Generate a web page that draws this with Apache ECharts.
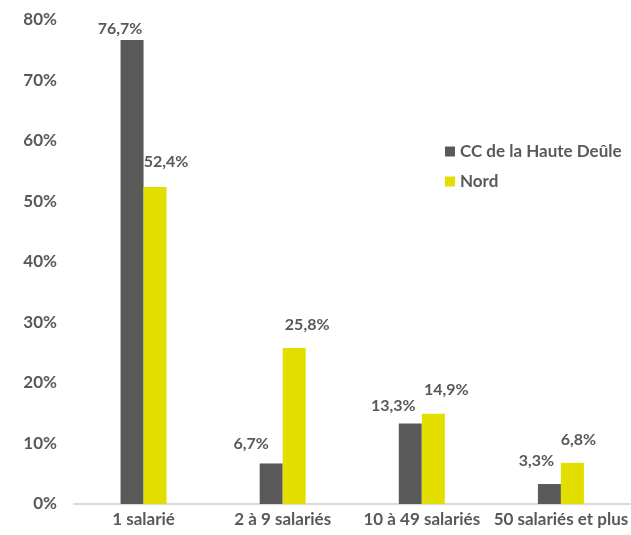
<!DOCTYPE html>
<html>
<head>
<meta charset="utf-8">
<script src="https://cdn.jsdelivr.net/npm/echarts@6/dist/echarts.min.js"></script>
<style>html,body{margin:0;padding:0;background:#fff}#c{width:631px;height:535px}</style>
</head>
<body>
<div id="c"></div>
<script>
const categories = ['1 salarié', '2 à 9 salariés', '10 à 49 salariés', '50 salariés et plus'];
const seriesNames = ['CC de la Haute Deûle', 'Nord'];
const ccValues = [76.7, 6.7, 13.3, 3.3];
const nordValues = [52.4, 25.8, 14.9, 6.8];
const colors = ['#595959', '#E2DE00'];

// label nudges (style only): [dx, dy above bar]
const ccLabelNudge = [[-12, 3], [-20, 12], [-17, 10], [-13, 15]];
const nordLabelNudge = [[11, 17], [13, 15], [13, 16], [6, 15]];

const fontFamily = 'Lato, "Open Sans", sans-serif';
const textColor = '#595959';
const labelFmt = p => p.value.toFixed(1).replace('.', ',') + '%';

function withNudges(values, nudges) {
  return values.map((v, i) => ({
    value: v,
    label: { offset: [nudges[i][0], -nudges[i][1]] }
  }));
}

const labelStyle = { show: true, position: 'top', distance: 0, formatter: labelFmt, color: textColor, fontWeight: 'bold', fontSize: 16, fontFamily: fontFamily };

const chart = echarts.init(document.getElementById('c'));
chart.setOption({
  animation: false,
  textStyle: { fontFamily: fontFamily },
  grid: { left: 74, top: 20, width: 558, bottom: 31, containLabel: false },
  legend: {
    orient: 'vertical',
    left: 445, top: 143, padding: 0,
    itemWidth: 10, itemHeight: 10, itemGap: 13,
    icon: 'rect',
    textStyle: { color: textColor, fontWeight: 'bold', fontSize: 17, fontFamily: fontFamily },
    data: seriesNames
  },
  xAxis: {
    type: 'category',
    data: categories,
    axisLine: { lineStyle: { color: '#D9D9D9', width: 2 } },
    axisTick: { show: false },
    axisLabel: { color: textColor, fontWeight: 'bold', fontSize: 17, margin: 7, interval: 0, fontFamily: fontFamily }
  },
  yAxis: {
    type: 'value',
    min: 0, max: 80, interval: 10,
    axisLine: { show: false },
    axisTick: { show: false },
    splitLine: { show: false },
    axisLabel: { formatter: '{value}%', color: textColor, fontWeight: 'bold', fontSize: 17, margin: 17, fontFamily: fontFamily }
  },
  series: [
    {
      name: seriesNames[0], type: 'bar', data: withNudges(ccValues, ccLabelNudge), barWidth: 23, barGap: '0%',
      itemStyle: { color: colors[0] },
      label: labelStyle
    },
    {
      name: seriesNames[1], type: 'bar', data: withNudges(nordValues, nordLabelNudge), barWidth: 23, barGap: '0%', z: 3,
      itemStyle: { color: colors[1] },
      label: labelStyle
    }
  ]
});
</script>
</body>
</html>
